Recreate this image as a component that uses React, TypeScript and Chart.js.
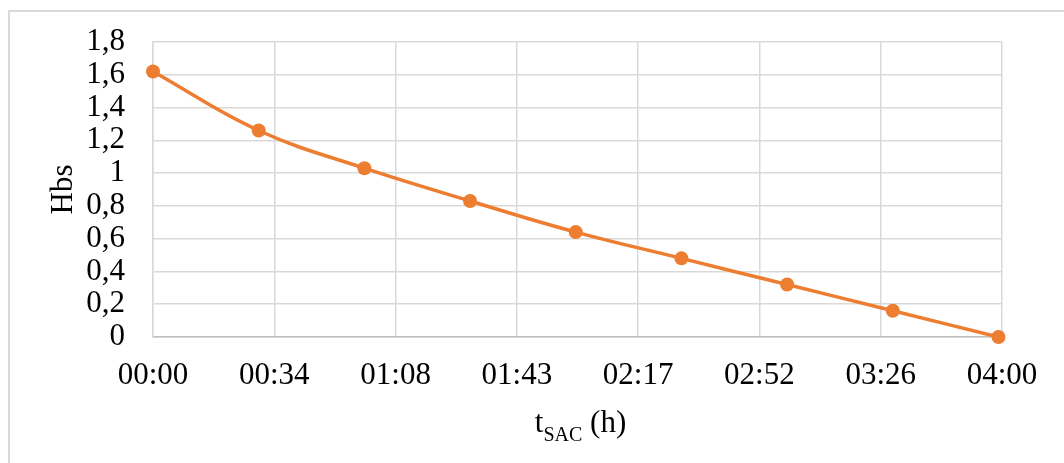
import React, { useEffect, useRef } from "react";
import { Chart, registerables } from "chart.js";

Chart.register(...registerables);

// Data
const timesMin: number[] = [0, 30, 60, 90, 120, 150, 180, 210, 240];
const hbsValues: number[] = [1.62, 1.26, 1.03, 0.83, 0.64, 0.48, 0.32, 0.16, 0];
const xAxisMaxMin = 241;
const xTickLabels: string[] = ["00:00", "00:34", "01:08", "01:43", "02:17", "02:52", "03:26", "04:00"];
const yTickLabels: string[] = ["0", "0,2", "0,4", "0,6", "0,8", "1", "1,2", "1,4", "1,6", "1,8"];
const yTitle = "Hbs";
const xTitleMain = "t";
const xTitleSub = "SAC";
const xTitleRest = " (h)";

const FONT = "'Liberation Serif', 'Times New Roman', serif";
const ORANGE = "#ED7D31";
const GRID = "#d9d9d9";

const decorPlugin = {
  id: "decor",
  beforeDraw(chart: any) {
    const ctx = chart.ctx;
    ctx.save();
    ctx.fillStyle = "#ffffff";
    ctx.fillRect(0, 0, chart.width, chart.height);
    ctx.strokeStyle = GRID;
    ctx.lineWidth = 2;
    ctx.beginPath();
    ctx.moveTo(9, chart.height);
    ctx.lineTo(9, 11);
    ctx.lineTo(chart.width, 11);
    ctx.stroke();
    ctx.restore();
  },
  afterDraw(chart: any) {
    const ctx = chart.ctx;
    const area = chart.chartArea;
    ctx.save();
    ctx.fillStyle = "#000000";
    // Y title
    ctx.save();
    ctx.translate(72, (area.top + area.bottom) / 2);
    ctx.rotate(-Math.PI / 2);
    ctx.font = `31px ${FONT}`;
    ctx.textAlign = "center";
    ctx.textBaseline = "alphabetic";
    ctx.fillText(yTitle, 0, 0);
    ctx.restore();
    // X title with subscript
    const mainFont = `31px ${FONT}`;
    const subFont = `20px ${FONT}`;
    ctx.font = mainFont;
    const w1 = ctx.measureText(xTitleMain).width;
    const w3 = ctx.measureText(xTitleRest).width;
    ctx.font = subFont;
    const w2 = ctx.measureText(xTitleSub).width;
    const total = w1 + w2 + w3;
    const cx = (area.left + area.right) / 2 + 3;
    let x = cx - total / 2;
    const baseline = 432;
    ctx.textAlign = "left";
    ctx.textBaseline = "alphabetic";
    ctx.font = mainFont;
    ctx.fillText(xTitleMain, x, baseline);
    x += w1;
    ctx.font = subFont;
    ctx.fillText(xTitleSub, x, baseline + 9);
    x += w2;
    ctx.font = mainFont;
    ctx.fillText(xTitleRest, x, baseline);
    ctx.restore();
  },
};

export default function App() {
  const canvasRef = useRef<HTMLCanvasElement | null>(null);

  useEffect(() => {
    if (!canvasRef.current) return;
    const chart = new Chart(canvasRef.current, {
      type: "line",
      data: {
        datasets: [
          {
            label: yTitle,
            data: timesMin.map((t, i) => ({ x: t, y: hbsValues[i] })),
            borderColor: ORANGE,
            backgroundColor: ORANGE,
            borderWidth: 3.5,
            pointRadius: 7,
            pointBorderWidth: 0,
            pointBackgroundColor: ORANGE,
            tension: 0.4,
            clip: false as any,
          },
        ],
      },
      options: {
        animation: false,
        responsive: false,
        layout: { padding: { left: 0, right: 62, top: 42, bottom: 0 } },
        plugins: {
          legend: { display: false },
          tooltip: { enabled: false },
        },
        scales: {
          x: {
            type: "linear",
            min: 0,
            max: xAxisMaxMin,
            afterBuildTicks: (scale: any) => {
              scale.ticks = xTickLabels.map((_, i) => ({ value: (i * xAxisMaxMin) / 7 }));
            },
            afterFit: (scale: any) => {
              scale.height = 126;
              scale.paddingLeft = 0;
              scale.paddingRight = 0;
            },
            ticks: {
              autoSkip: false,
              maxRotation: 0,
              minRotation: 0,
              padding: 20,
              color: "#000000",
              font: { family: FONT, size: 31 },
              callback: (_v: any, i: number) => xTickLabels[i],
            },
            grid: { color: GRID, lineWidth: 1.5, drawTicks: false },
            border: { color: "#bfbfbf", width: 1.5 },
          },
          y: {
            type: "linear",
            min: 0,
            max: 1.8,
            afterBuildTicks: (scale: any) => {
              scale.ticks = yTickLabels.map((_, i) => ({ value: i * 0.2 }));
            },
            afterFit: (scale: any) => {
              scale.width = 153;
              scale.paddingTop = 0;
              scale.paddingBottom = 0;
            },
            ticks: {
              autoSkip: false,
              padding: 28,
              color: "#000000",
              font: { family: FONT, size: 31 },
              callback: (_v: any, i: number) => yTickLabels[i],
            },
            grid: { color: GRID, lineWidth: 1.5, drawTicks: false },
            border: { color: GRID, width: 1.5 },
          },
        },
      },
      plugins: [decorPlugin],
    });
    return () => chart.destroy();
  }, []);

  return (
    <div style={{ position: "fixed", left: 0, top: 0, width: 1064, height: 463, background: "#fff" }}>
      <canvas ref={canvasRef} width={1064} height={463} style={{ display: "block" }} />
    </div>
  );
}
